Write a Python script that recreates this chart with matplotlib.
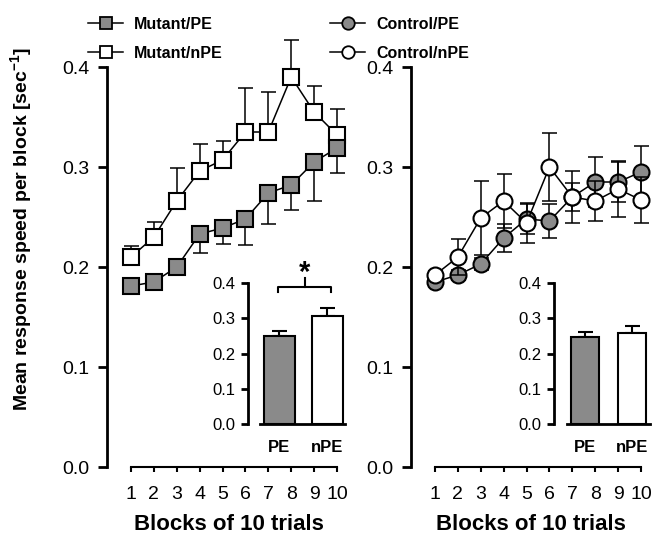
import matplotlib
matplotlib.use("Agg")
import matplotlib.pyplot as plt
from matplotlib.lines import Line2D
import numpy as np

plt.rcParams['font.family'] = ['Liberation Sans', 'DejaVu Sans']
plt.rcParams['mathtext.fontset'] = 'custom'
plt.rcParams['mathtext.rm'] = 'Liberation Sans'
plt.rcParams['mathtext.bf'] = 'Liberation Sans:bold'

# ---------------- data ----------------
blocks = [1, 2, 3, 4, 5, 6, 7, 8, 9, 10]
block_labels = ['1', '2', '3', '4', '5', '6', '7', '8', '9', '10']

mutant_pe = [0.181, 0.185, 0.200, 0.233, 0.239, 0.248, 0.274, 0.282, 0.305, 0.319]
mutant_pe_err = [0.005, 0.005, 0.008, 0.019, 0.016, 0.026, 0.031, 0.025, 0.039, 0.025]
mutant_npe = [0.210, 0.230, 0.266, 0.296, 0.307, 0.335, 0.335, 0.390, 0.355, 0.332]
mutant_npe_err = [0.011, 0.015, 0.033, 0.027, 0.019, 0.044, 0.040, 0.037, 0.026, 0.026]

control_pe = [0.185, 0.192, 0.203, 0.229, 0.248, 0.246, 0.270, 0.285, 0.285, 0.295]
control_pe_err = [0.004, 0.005, 0.006, 0.014, 0.015, 0.017, 0.014, 0.025, 0.020, 0.026]
control_npe = [0.192, 0.210, 0.249, 0.266, 0.244, 0.300, 0.270, 0.266, 0.278, 0.267]
control_npe_err = [0.004, 0.018, 0.037, 0.027, 0.020, 0.034, 0.026, 0.020, 0.028, 0.023]

bar_labels = ['PE', 'nPE']
mutant_bar = [0.249, 0.307]
mutant_bar_err = [0.014, 0.021]
control_bar = [0.2475, 0.257]
control_bar_err = [0.0125, 0.021]

yticks = [0.0, 0.1, 0.2, 0.3, 0.4]
ytick_labels = ['0.0', '0.1', '0.2', '0.3', '0.4']

GREY = '#8a8a8a'
W, H = 652, 541

fig = plt.figure(figsize=(W / 100, H / 100), dpi=100)


def px_axes(left, top, right, bottom):
    return fig.add_axes([left / W, 1 - bottom / H, (right - left) / W, (bottom - top) / H])


def style_main(ax):
    for s in ['top', 'right']:
        ax.spines[s].set_visible(False)
    ax.spines['left'].set_linewidth(2.0)
    ax.spines['bottom'].set_linewidth(1.5)
    ax.spines['left'].set_bounds(0, 0.4)
    ax.spines['bottom'].set_bounds(1, 10)
    ax.set_ylim(0, 0.45)
    ax.set_yticks(yticks)
    ax.set_yticklabels(ytick_labels)
    ax.set_xticks(blocks)
    ax.set_xticklabels(block_labels)
    ax.tick_params(axis='y', direction='out', length=6.5, width=2.0, pad=6, labelsize=14)
    ax.tick_params(axis='x', direction='out', length=3.6, width=1.5, pad=10, labelsize=14)
    ax.set_xlabel('Blocks of 10 trials', fontsize=16, fontweight='bold', labelpad=8)
    ax.patch.set_visible(False)


xunit = (337 - 131) / 9.0
xl = 1 - 24 / xunit

# ---------------- left main panel ----------------
axL = px_axes(107, 17, 107 + (10.6 - xl) * xunit, 467)
axL.set_xlim(xl, 10.6)
style_main(axL)

eb_kw = dict(fmt='none', ecolor='black', elinewidth=1.1, capsize=5.4, capthick=1.1)
axL.errorbar(blocks, mutant_npe, yerr=[np.zeros(10), mutant_npe_err], zorder=2, clip_on=False, **eb_kw)
axL.plot(blocks, mutant_npe, '-', color='black', lw=1.1, marker='s', ms=11.5,
         mfc='white', mec='black', mew=1.5, zorder=3, clip_on=False)
axL.errorbar(blocks, mutant_pe, yerr=[mutant_pe_err, np.zeros(10)], zorder=4, clip_on=False, **eb_kw)
axL.plot(blocks, mutant_pe, '-', color='black', lw=1.1, marker='s', ms=11.5,
         mfc=GREY, mec='black', mew=1.5, zorder=5, clip_on=False)

# ---------------- right main panel ----------------
axR = px_axes(411, 17, 411 + (10.4 - xl) * xunit, 467)
axR.set_xlim(xl, 10.4)
style_main(axR)

axR.errorbar(blocks, control_pe, yerr=control_pe_err, zorder=2, clip_on=False, **eb_kw)
axR.plot(blocks, control_pe, '-', color='black', lw=1.1, marker='o', ms=11.5,
         mfc=GREY, mec='black', mew=1.5, zorder=3, clip_on=False)
axR.errorbar(blocks, control_npe, yerr=control_npe_err, zorder=4, clip_on=False, **eb_kw)
axR.plot(blocks, control_npe, '-', color='black', lw=1.1, marker='o', ms=11.5,
         mfc='white', mec='black', mew=1.5, zorder=5, clip_on=False)

# y label
fig.text(22 / W, 1 - 229 / H, r'Mean response speed per block [sec$^{\mathbf{-1}}$]',
         rotation=90, ha='center', va='center', fontsize=14, fontweight='bold')


# ---------------- insets ----------------
def make_inset(left, unit, xlo, xhi, values, errs, width, sb_lo):
    y0, y4 = 424.3, 282.7
    yunit = (y0 - y4) / 0.4
    ax = px_axes(left, y0 - 0.45 * yunit, left + (xhi - xlo) * unit, y0)
    ax.set_xlim(xlo, xhi)
    ax.set_ylim(0, 0.45)
    ax.patch.set_visible(False)
    for s in ['top', 'right']:
        ax.spines[s].set_visible(False)
    ax.spines['left'].set_linewidth(2.0)
    ax.spines['bottom'].set_linewidth(2.0)
    ax.spines['left'].set_bounds(0, 0.4)
    ax.spines['bottom'].set_bounds(sb_lo, xhi - 0.04)
    ax.set_yticks(yticks)
    ax.set_yticklabels(ytick_labels)
    x = [1, 2]
    ax.set_xticks(x)
    ax.set_xticklabels(bar_labels, fontweight='bold')
    ax.tick_params(axis='y', direction='out', length=4.8, width=2.0, pad=4.3, labelsize=12)
    ax.tick_params(axis='x', length=0, pad=11, labelsize=12)
    ax.bar(x, values, width=width, color=[GREY, 'white'], edgecolor='black', linewidth=1.5, zorder=2)
    ax.errorbar(x, values, yerr=[np.zeros(2), errs], fmt='none', ecolor='black',
                elinewidth=1.5, capsize=5.4, capthick=1.5, zorder=1)
    ax.set_zorder(10)
    return ax


axIL = make_inset(248, 48.0, 0.344, 2.4, mutant_bar, mutant_bar_err, 0.65, 0.6)
axIR = make_inset(554, 47.3, 0.345, 2.42, control_bar, control_bar_err, 0.6, 0.62)

# significance bracket on left inset
axIL.plot([0.97, 0.97, 2.07, 2.07], [0.375, 0.389, 0.389, 0.375], color='black', lw=1.5, clip_on=False)
axIL.plot([1.53, 1.53], [0.389, 0.412], color='black', lw=1.5, clip_on=False)
axIL.text(1.53, 0.427, '*', fontsize=21, fontweight='bold', ha='center', va='center')

# ---------------- legends ----------------
leg_kw = dict(loc='upper left', frameon=False, borderpad=0, handlelength=2.2, handletextpad=0.7,
              labelspacing=0.85, prop={'weight': 'bold', 'size': 11.5}, bbox_transform=fig.transFigure)
hL = [Line2D([], [], color='black', lw=1.1, marker='s', ms=8.5, mfc=GREY, mec='black', mew=1.3),
      Line2D([], [], color='black', lw=1.1, marker='s', ms=8.5, mfc='white', mec='black', mew=1.3)]
legL = axL.legend(hL, ['Mutant/PE', 'Mutant/nPE'], bbox_to_anchor=(80 / W, 1 - 9 / H), **leg_kw)
hR = [Line2D([], [], color='black', lw=1.1, marker='o', ms=9, mfc=GREY, mec='black', mew=1.3),
      Line2D([], [], color='black', lw=1.1, marker='o', ms=9, mfc='white', mec='black', mew=1.3)]
legR = axR.legend(hR, ['Control/PE', 'Control/nPE'], bbox_to_anchor=(322 / W, 1 - 9 / H), **leg_kw)

fig.savefig('out.png', dpi=100)
